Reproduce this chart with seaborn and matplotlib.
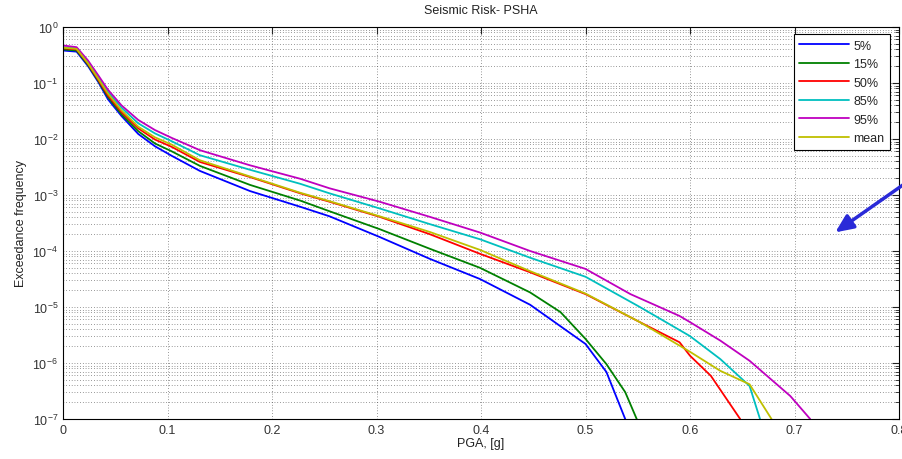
import numpy as np
import pandas as pd
import seaborn as sns
import matplotlib
matplotlib.use("Agg")
import matplotlib.pyplot as plt
from matplotlib.ticker import LogLocator, NullLocator, FixedLocator

# PGA values (g) and log10 of exceedance frequency
pga_common = [0, 0.013, 0.024, 0.034, 0.043, 0.056, 0.072, 0.088, 0.104, 0.131,
              0.179, 0.227, 0.255, 0.303, 0.351, 0.399, 0.447, 0.5]

pga_p5 = pga_common + [0.52, 0.538]
log_p5 = [-0.42, -0.44, -0.70, -0.99, -1.29, -1.59, -1.91, -2.13, -2.30, -2.57,
          -2.93, -3.21, -3.38, -3.75, -4.14, -4.50, -4.96, -5.66, -6.16, -7.0]

pga_p15 = pga_common[:17] + [0.476, 0.5, 0.52, 0.538, 0.549]
log_p15 = [-0.40, -0.42, -0.68, -0.97, -1.25, -1.56, -1.86, -2.08, -2.22, -2.48,
           -2.82, -3.10, -3.29, -3.61, -3.96, -4.30, -4.74, -5.09, -5.57, -6.02, -6.52, -7.0]

pga_p50 = pga_common + [0.552, 0.59, 0.6, 0.62, 0.648]
log_p50 = [-0.38, -0.40, -0.66, -0.95, -1.22, -1.52, -1.81, -2.01, -2.14, -2.41,
           -2.68, -2.97, -3.12, -3.39, -3.70, -4.05, -4.38, -4.77,
           -5.27, -5.63, -5.87, -6.23, -7.0]

pga_p85 = pga_common + [0.552, 0.6, 0.629, 0.657, 0.667]
log_p85 = [-0.36, -0.38, -0.63, -0.90, -1.16, -1.44, -1.72, -1.90, -2.04, -2.29,
           -2.55, -2.80, -2.97, -3.24, -3.52, -3.79, -4.12, -4.46,
           -5.00, -5.52, -5.93, -6.41, -7.0]

pga_p95 = pga_common + [0.543, 0.59, 0.6, 0.629, 0.657, 0.696, 0.715]
log_p95 = [-0.33, -0.36, -0.60, -0.87, -1.12, -1.40, -1.66, -1.84, -1.98, -2.20,
           -2.47, -2.71, -2.88, -3.12, -3.39, -3.67, -4.00, -4.32,
           -4.77, -5.16, -5.27, -5.60, -5.96, -6.59, -7.0]

pga_mean = pga_common + [0.552, 0.6, 0.629, 0.657, 0.678]
log_mean = [-0.37, -0.39, -0.65, -0.93, -1.19, -1.49, -1.78, -1.97, -2.10, -2.38,
            -2.67, -2.96, -3.11, -3.38, -3.66, -3.98, -4.36, -4.76,
            -5.27, -5.80, -6.14, -6.38, -7.0]

labels = ["5%", "15%", "50%", "85%", "95%", "mean"]
colors = ["#0000ff", "#008000", "#ff0000", "#00bfbf", "#bf00bf", "#bfbf00"]
x_ticks = [0, 0.1, 0.2, 0.3, 0.4, 0.5, 0.6, 0.7, 0.8]
x_tick_labels = ["0", "0.1", "0.2", "0.3", "0.4", "0.5", "0.6", "0.7", "0.8"]

frames = []
for lab, xs, ls in zip(labels,
                       [pga_p5, pga_p15, pga_p50, pga_p85, pga_p95, pga_mean],
                       [log_p5, log_p15, log_p50, log_p85, log_p95, log_mean]):
    frames.append(pd.DataFrame({"pga": xs, "freq": 10.0 ** np.array(ls), "series": lab}))
df = pd.concat(frames, ignore_index=True)

sns.set_theme(style="white")
plt.rcParams["font.family"] = ["Liberation Sans", "DejaVu Sans"]
plt.rcParams["mathtext.fontset"] = "custom"
plt.rcParams["mathtext.rm"] = "Liberation Sans"
plt.rcParams["mathtext.it"] = "Liberation Sans"

fig = plt.figure(figsize=(9.02, 4.6), dpi=100)
ax = fig.add_axes([63 / 902, 1 - 420 / 460, 836 / 902, 392 / 460])

sns.lineplot(data=df, x="pga", y="freq", hue="series", hue_order=labels,
             palette=colors, estimator=None, sort=False, linewidth=1.3, ax=ax)

ax.set_yscale("log")
ax.set_xlim(0, 0.8)
ax.set_ylim(1e-7, 1)
ax.xaxis.set_major_locator(FixedLocator(x_ticks))
ax.set_xticklabels(x_tick_labels)
ax.xaxis.set_minor_locator(NullLocator())
ax.yaxis.set_major_locator(LogLocator(base=10, numticks=20))
ax.yaxis.set_minor_locator(LogLocator(base=10, subs=np.arange(2, 10), numticks=20))

ax.grid(True, which="major", axis="both", linestyle=(0, (1, 3)), color="#3a3a3a", linewidth=0.5)
ax.grid(True, which="minor", axis="y", linestyle=(0, (1, 3)), color="#3a3a3a", linewidth=0.5)

ax.tick_params(which="both", direction="in", top=True, right=True, labelsize=9,
               colors="#222222", labelcolor="#333333")
ax.tick_params(which="major", length=5, width=0.8)
ax.tick_params(which="minor", length=3, width=0.6)
for sp in ax.spines.values():
    sp.set_color("black")
    sp.set_linewidth(0.8)

ax.set_title("Seismic Risk- PSHA", fontsize=9, color="#222222", pad=10)
ax.set_xlabel("PGA, [g]", fontsize=9, color="#222222", labelpad=1)
ax.set_ylabel("Exceedance frequency", fontsize=9, color="#222222", labelpad=4)

handles, labs = ax.get_legend_handles_labels()
ax.legend(handles, labs, loc="upper right", bbox_to_anchor=(0.989, 0.982),
          borderaxespad=0, fontsize=9, handlelength=4.0, handletextpad=0.3,
          labelspacing=0.52, borderpad=0.45, fancybox=False, framealpha=1,
          edgecolor="black")
ax.get_legend().get_frame().set_linewidth(0.8)

# blue arrow pointing into the chart from the right edge
ax.annotate("", xy=(0.921, 0.472), xytext=(1.01, 0.605),
            xycoords="axes fraction", textcoords="axes fraction",
            arrowprops=dict(arrowstyle="-|>,head_length=0.9,head_width=0.4",
                            color="#2a2ad8", lw=2.5), annotation_clip=False)

fig.savefig("out.png", dpi=100)
